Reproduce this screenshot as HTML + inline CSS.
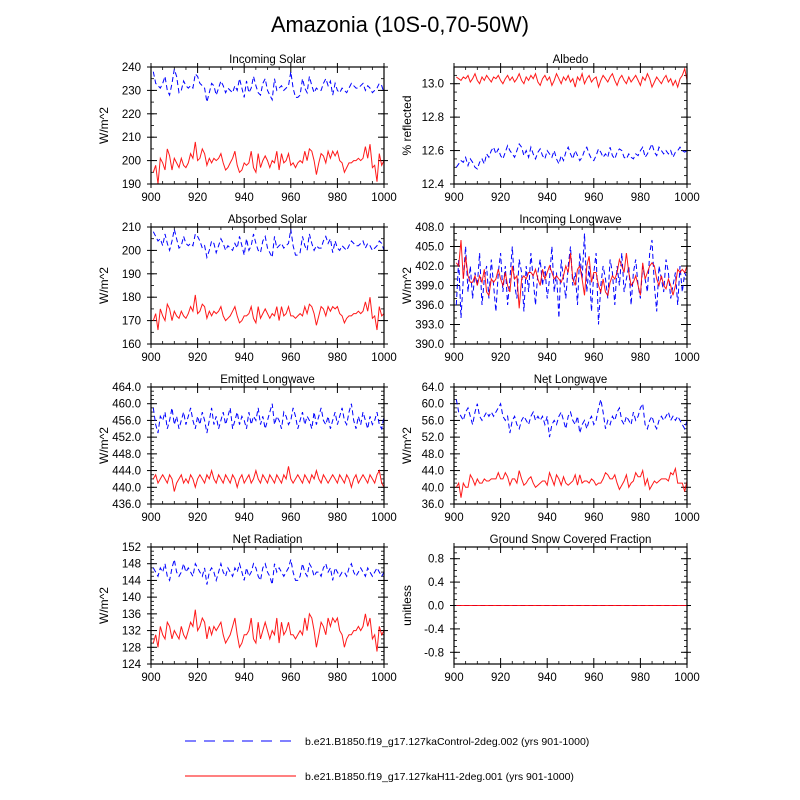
<!DOCTYPE html>
<html><head><meta charset="utf-8"><style>
body{margin:0;background:#fff}
svg{display:block;font-family:"Liberation Sans",sans-serif}
</style></head><body>
<svg id="chart" width="800" height="800" viewBox="0 0 800 800">
<rect width="800" height="800" fill="#fff"/>
<text x="400" y="32" font-size="21.8" text-anchor="middle">Amazonia (10S-0,70-50W)</text>
<g id="panels"></g>
<g>
<line x1="185" y1="741" x2="296" y2="741" stroke="#00f" stroke-width="1" stroke-dasharray="11,8"/>
<text x="305" y="745" font-size="10.5">b.e21.B1850.f19_g17.127kaControl-2deg.002 (yrs 901-1000)</text>
<line x1="185" y1="776" x2="296" y2="776" stroke="#f00" stroke-width="1"/>
<text x="305" y="780" font-size="10.5">b.e21.B1850.f19_g17.127kaH11-2deg.001 (yrs 901-1000)</text>
</g>
</svg>
<script>
const years0 = 901;
const xTicks = [900,920,940,960,980,1000];
const solarCtl = [238,233,232,231,233,236,230,228,233,239,236,229,230,234,232,231,232,231,237,236,233,232,231,225,229,233,232,228,231,234,232,229,231,230,229,232,230,235,231,227,234,229,231,236,232,229,228,233,235,230,228,226,235,230,231,232,230,231,232,238,231,227,227,228,235,231,229,236,232,229,231,230,230,233,235,232,234,228,233,230,229,231,230,229,231,233,232,231,231,232,233,230,232,231,229,230,231,233,232,229];
const solarH11 = [195,198,190,201,199,196,205,202,196,201,199,197,201,198,197,199,203,201,208,200,201,205,203,198,201,199,201,200,201,203,199,196,197,199,201,204,198,195,196,199,198,199,204,197,195,203,197,200,202,200,197,200,199,204,196,203,199,200,203,198,199,197,199,200,199,204,200,205,204,200,194,199,203,202,199,204,201,204,202,204,200,199,195,197,199,199,200,200,201,200,201,206,201,207,197,198,191,203,198,200];
const albCtl = [12.50,12.52,12.54,12.53,12.56,12.51,12.55,12.53,12.50,12.49,12.53,12.55,12.52,12.58,12.56,12.60,12.62,12.58,12.61,12.57,12.55,12.59,12.63,12.60,12.58,12.56,12.60,12.64,12.62,12.57,12.60,12.56,12.62,12.58,12.55,12.59,12.61,12.57,12.55,12.60,12.58,12.56,12.60,12.55,12.52,12.57,12.54,12.59,12.62,12.58,12.55,12.60,12.57,12.54,12.56,12.60,12.62,12.58,12.55,12.54,12.57,12.61,12.59,12.56,12.58,12.56,12.62,12.57,12.55,12.59,12.61,12.60,12.56,12.55,12.58,12.56,12.55,12.58,12.57,12.60,12.62,12.56,12.58,12.61,12.64,12.59,12.57,12.62,12.60,12.58,12.60,12.58,12.60,12.56,12.59,12.60,12.62,12.60,12.59,12.60];
const albH11 = [13.04,13.03,13.02,13.04,13.03,13.05,13.01,13.03,13.06,13.02,13.00,13.04,13.02,13.05,13.03,13.01,13.04,13.03,13.05,13.02,13.00,13.03,13.05,13.02,13.04,13.01,13.03,13.06,13.02,13.00,13.04,13.02,13.05,13.03,13.06,13.01,12.99,13.03,13.05,13.02,13.04,12.99,13.02,13.06,13.03,13.00,13.04,13.02,13.05,13.01,13.03,12.98,13.04,13.02,13.06,13.00,13.03,13.05,13.01,13.03,13.04,12.98,13.02,13.05,13.03,13.01,13.04,13.06,13.02,12.99,13.03,13.05,13.02,13.00,13.04,13.01,13.03,13.05,13.02,12.99,13.04,13.02,13.06,13.03,12.98,13.01,13.04,13.02,13.00,13.03,13.05,13.01,13.03,12.99,13.02,12.98,13.03,13.05,13.09,13.02];
const absCtl = [208,206,204,205,202,207,203,200,204,209,205,201,202,206,203,202,203,202,207,206,204,201,202,197,200,204,203,199,202,205,203,200,202,201,200,203,201,206,202,198,205,200,202,207,203,200,199,204,206,201,199,197,206,201,202,203,201,202,203,209,202,198,198,199,206,202,200,207,203,200,202,201,201,204,206,203,205,199,204,201,200,202,201,200,202,204,203,202,202,203,204,201,203,202,200,201,202,204,203,200];
const absH11 = [170,173,166,175,172,170,177,175,170,174,172,171,174,172,171,173,176,174,181,173,174,177,176,171,174,172,174,173,174,176,172,170,171,172,174,176,172,169,170,172,172,173,176,171,169,176,171,173,175,173,171,173,172,176,170,176,172,173,176,172,172,171,172,173,172,176,173,177,176,173,168,172,176,175,172,176,174,176,175,176,173,172,169,171,172,172,173,173,174,173,174,178,174,180,171,172,166,176,172,173];
const lwinCtl = [396,403,394,400,405,398,402,397,401,399,404,396,400,402,397,403,399,395,401,404,398,402,396,400,405,399,397,403,401,395,402,398,404,400,396,401,403,399,402,397,400,405,398,401,394,403,400,397,402,405,399,401,396,404,400,407,398,402,395,401,404,393,399,402,400,397,403,401,396,402,399,404,398,400,402,396,401,403,399,397,402,400,398,404,406,399,395,402,400,398,403,401,397,399,401,396,402,398,401,400];
const lwinH11 = [402.5,402,406,400,403.5,400.5,399.5,399.5,400.5,399,400.5,399.5,401.5,398,397.5,400,399.5,400,401.5,400,399,401,399,398,402,400,400.5,395.5,400,400.5,400,401,401,400.5,401.5,400,399,401.5,400,401,402,401,400,400.5,400,399.5,400.5,402,401,404,400,399,401.5,402,400,397.5,402,403.5,399.5,401,401,399,398,400,398,397.5,399.5,400.5,400,401,403,402,401,404,401,399,399.5,400.5,399,397.5,402.5,400,401,402,402.5,402,400,399,400.5,399,398.5,400,399,397.5,399,401.5,401,401.5,401,402];
const lwoutCtl = [459,455,453,457,456,458,454,456,459,455,457,454,456,458,455,457,459,456,454,457,455,458,456,453,456,459,455,457,454,456,458,455,457,459,454,456,458,455,457,456,454,458,455,457,456,459,455,457,454,456,458,460,455,457,456,454,458,457,455,456,459,457,454,456,458,455,457,456,454,458,455,457,459,456,455,457,454,456,458,455,457,459,456,455,458,460,456,454,457,455,458,456,454,457,455,456,458,455,454,457];
const lwoutH11 = [442,443,441,442,443,442,441,443,442,439,441,442,443,441,442,441,443,442,440,442,443,442,441,443,442,444,442,441,443,442,441,443,442,441,443,442,440,442,443,441,442,443,441,442,444,442,441,443,442,441,443,442,441,443,442,441,443,442,445,442,441,442,443,442,441,443,442,441,443,442,444,442,441,443,442,441,442,443,442,441,443,442,441,443,442,440,442,443,441,442,443,442,441,443,442,441,443,444,441,440];
const lwnetCtl = [61,58,57,56,58,59,57,55,58,60,57,56,57,58,57,58,57,58,59,60,57,56,57,53,56,57,55,54,56,57,56,55,57,58,56,57,56,57,55,57,52,55,56,55,57,58,56,54,57,58,56,55,57,53,55,56,54,56,57,55,56,59,61,58,54,56,55,57,56,58,59,56,55,57,56,55,58,56,57,59,60,55,54,56,57,55,54,56,57,56,57,58,56,57,56,57,56,55,54,56];
const lwnetH11 = [40,41,37.5,41,40,40,43,42,40.5,42,41,41,42,41.5,41.5,42,42,42,43.5,42,42,43.5,42.5,40.5,42,42,41,44,42,40.5,41,42,42.5,41,40,40.5,41,41.5,41.5,40.5,43.5,42,40.5,43,42,40.5,42.5,41,40.5,41,41.5,43,40.5,43,41,41.5,41.5,41,42,41.5,40.5,41,41,42,43.5,43,42,42,43,41,39.5,40.5,41.5,43,40,41,41.5,43.5,42.5,42.5,44,40.5,42,39.5,40.5,41.5,41,41.5,42,42,42,41.5,43.5,43,44.5,41,41,41,39,41.5];
const netCtl = [147,146,145,147,146,148,145,144,147,149,146,145,146,148,146,147,146,145,148,147,146,145,147,143,146,147,146,144,146,148,146,145,147,146,145,147,146,148,146,144,147,145,146,148,147,145,144,147,148,146,145,143,148,146,147,146,145,146,147,149,146,144,144,145,148,146,145,148,147,145,146,146,145,147,148,146,147,144,147,146,145,146,146,145,147,148,146,145,146,147,146,145,147,146,145,146,147,146,145,146];
const netH11 = [129,131,128,133,131,130,134,133,130,132,131,130,133,131,130,132,134,133,137,132,133,135,134,130,133,131,133,132,133,134,131,129,130,131,133,135,131,128,129,131,131,132,135,130,129,134,130,132,134,132,130,132,131,135,129,134,131,132,134,131,131,130,131,132,131,135,132,136,135,132,128,131,134,133,131,135,133,135,134,135,132,131,128,130,131,131,132,132,133,132,133,136,133,135,130,131,127,133,131,132];
const snowCtl = [0,0,0,0,0,0,0,0,0,0,0,0,0,0,0,0,0,0,0,0,0,0,0,0,0,0,0,0,0,0,0,0,0,0,0,0,0,0,0,0,0,0,0,0,0,0,0,0,0,0,0,0,0,0,0,0,0,0,0,0,0,0,0,0,0,0,0,0,0,0,0,0,0,0,0,0,0,0,0,0,0,0,0,0,0,0,0,0,0,0,0,0,0,0,0,0,0,0,0,0];
const snowH11 = [0,0,0,0,0,0,0,0,0,0,0,0,0,0,0,0,0,0,0,0,0,0,0,0,0,0,0,0,0,0,0,0,0,0,0,0,0,0,0,0,0,0,0,0,0,0,0,0,0,0,0,0,0,0,0,0,0,0,0,0,0,0,0,0,0,0,0,0,0,0,0,0,0,0,0,0,0,0,0,0,0,0,0,0,0,0,0,0,0,0,0,0,0,0,0,0,0,0,0,0];
const solarTicks = [190,200,210,220,230,240];
const albTicks = [12.4,12.6,12.8,13.0];
const absTicks = [160,170,180,190,200,210];
const lwinTicks = [390,393,396,399,402,405,408];
const lwoutTicks = [436,440,444,448,452,456,460,464];
const lwnetTicks = [36,40,44,48,52,56,60,64];
const netTicks = [124,128,132,136,140,144,148,152];
const snowTicks = [-0.8,-0.4,0,0.4,0.8];

const NS='http://www.w3.org/2000/svg';
const root=document.getElementById('panels');
function mk(tag,attrs,parent){const e=document.createElementNS(NS,tag);for(const k in attrs)e.setAttribute(k,attrs[k]);(parent||root).appendChild(e);return e;}

const panels=[
 {id:'incoming-solar',title:'Incoming Solar',ylab:'W/m^2',x:151,y:67,ymin:190,ymax:240,ticks:solarTicks,dec:0,minor:5,c:solarCtl,h:solarH11},
 {id:'albedo',title:'Albedo',ylab:'% reflected',x:454,y:67,ymin:12.4,ymax:13.1,ticks:albTicks,dec:1,minor:0.05,c:albCtl,h:albH11},
 {id:'absorbed-solar',title:'Absorbed Solar',ylab:'W/m^2',x:151,y:227,ymin:160,ymax:210,ticks:absTicks,dec:0,minor:5,c:absCtl,h:absH11},
 {id:'incoming-longwave',title:'Incoming Longwave',ylab:'W/m^2',x:454,y:227,ymin:390,ymax:408,ticks:lwinTicks,dec:1,minor:1,c:lwinCtl,h:lwinH11},
 {id:'emitted-longwave',title:'Emitted Longwave',ylab:'W/m^2',x:151,y:387,ymin:436,ymax:464,ticks:lwoutTicks,dec:1,minor:1,c:lwoutCtl,h:lwoutH11},
 {id:'net-longwave',title:'Net Longwave',ylab:'W/m^2',x:454,y:387,ymin:36,ymax:64,ticks:lwnetTicks,dec:1,minor:1,c:lwnetCtl,h:lwnetH11},
 {id:'net-radiation',title:'Net Radiation',ylab:'W/m^2',x:151,y:547,ymin:124,ymax:152,ticks:netTicks,dec:0,minor:1,c:netCtl,h:netH11},
 {id:'snow-fraction',title:'Ground Snow Covered Fraction',ylab:'unitless',x:454,y:547,ymin:-1,ymax:1,ticks:snowTicks,dec:1,minor:0.1,c:snowCtl,h:snowH11}
];
const W=233,H=117;
panels.forEach(p=>{
 const g=mk('g',{});
 
 
 const sx=v=>p.x+(v-900)/100*W;
 const sy=v=>p.y+H-(v-p.ymin)/(p.ymax-p.ymin)*H;
 const t=mk('text',{x:p.x+W/2,y:p.y-4,'font-size':11.5,'text-anchor':'middle'},g);
 t.textContent=p.title;
 
 
 const yl=mk('text',{x:0,y:0,'font-size':12,'text-anchor':'middle',transform:`translate(${p.x-43},${p.y+H/2}) rotate(-90)`},g);
 yl.textContent=p.ylab;
 
 
 for(let v=905;v<1000;v+=5){ if(v%20===0)continue;
  mk('line',{x1:sx(v),x2:sx(v),y1:p.y+H,y2:p.y+H-3,stroke:'#000','stroke-width':0.8},g);
  mk('line',{x1:sx(v),x2:sx(v),y1:p.y,y2:p.y+3,stroke:'#000','stroke-width':0.8},g);}
 xTicks.forEach(v=>{
  mk('line',{x1:sx(v),x2:sx(v),y1:p.y+H+4,y2:p.y+H-6,stroke:'#000','stroke-width':1},g);
  mk('line',{x1:sx(v),x2:sx(v),y1:p.y-4,y2:p.y+6,stroke:'#000','stroke-width':1},g);
  const l=mk('text',{x:sx(v),y:p.y+H+17,'font-size':11.5,'text-anchor':'middle'},g);
  l.textContent=v;
  
  
 });
 for(let v=p.ymin;v<=p.ymax+1e-9;v+=p.minor){
  mk('line',{x1:p.x,x2:p.x+3,y1:sy(v),y2:sy(v),stroke:'#000','stroke-width':0.8},g);
  mk('line',{x1:p.x+W,x2:p.x+W-3,y1:sy(v),y2:sy(v),stroke:'#000','stroke-width':0.8},g);}
 p.ticks.forEach(v=>{
  mk('line',{x1:p.x-4,x2:p.x+6,y1:sy(v),y2:sy(v),stroke:'#000','stroke-width':1},g);
  mk('line',{x1:p.x+W+4,x2:p.x+W-6,y1:sy(v),y2:sy(v),stroke:'#000','stroke-width':1},g);
  const l=mk('text',{x:p.x-10,y:sy(v)+4,'font-size':11.5,'text-anchor':'end'},g);
  l.textContent=v.toFixed(p.dec);
  
  
 });
 const path=arr=>arr.map((v,i)=>(i?'L':'M')+sx(years0+i).toFixed(1)+','+sy(v).toFixed(1)).join('');
 const lc=mk('path',{d:path(p.c),fill:'none',stroke:'#00f','stroke-width':1,'stroke-dasharray':'5,3'},g);
 
 
 const lh=mk('path',{d:path(p.h),fill:'none',stroke:'#f00','stroke-width':1,'stroke-opacity':0.9},g);
 
 
 mk('rect',{x:p.x,y:p.y,width:W,height:H,fill:'none',stroke:'#000','stroke-width':1.2},g);
});
</script>
</body></html>
